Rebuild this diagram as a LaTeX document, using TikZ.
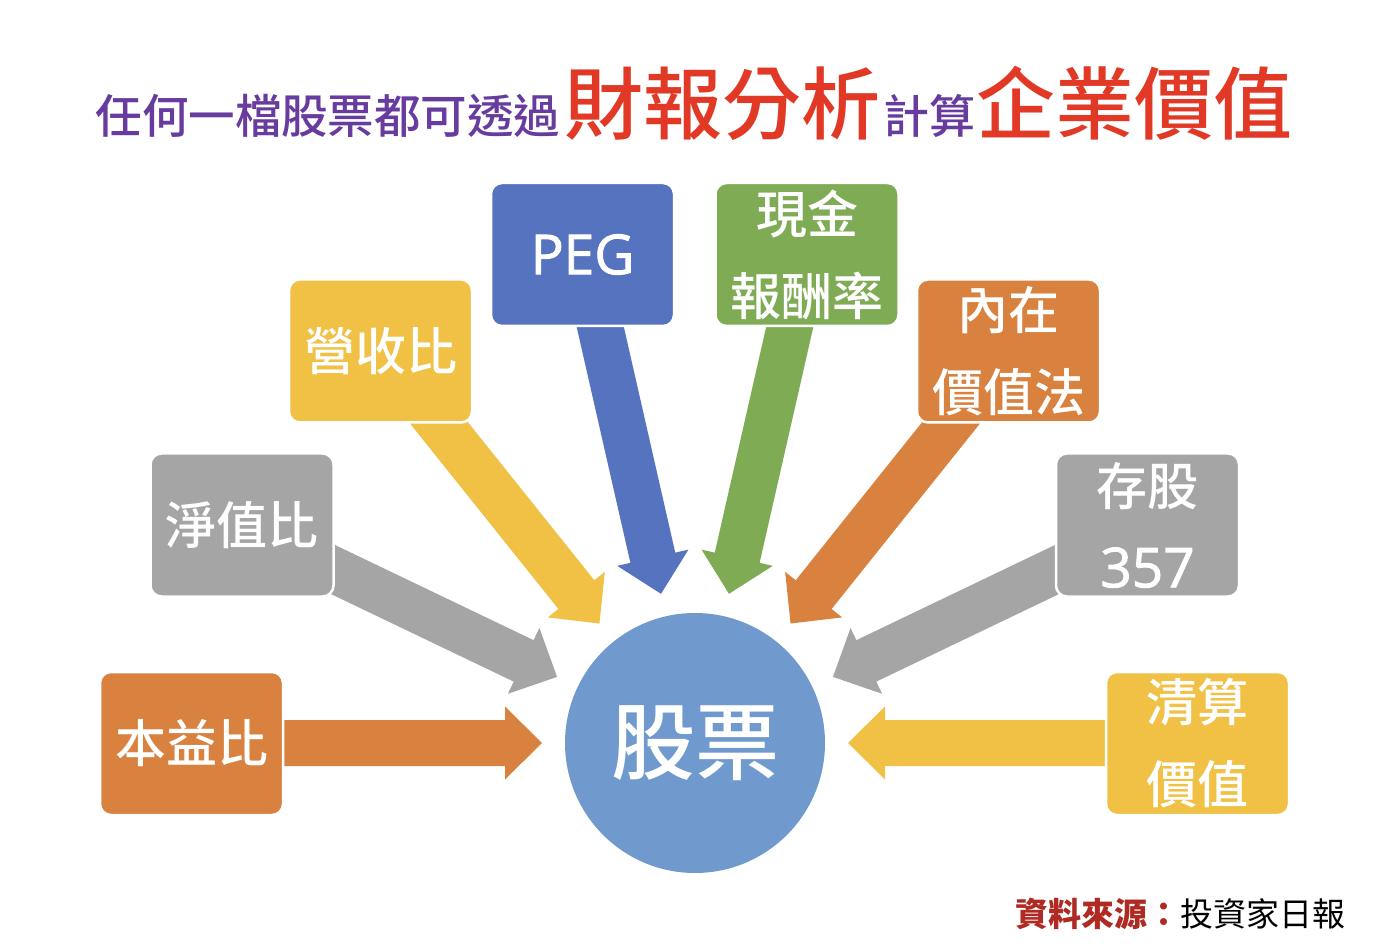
\documentclass[tikz,border=0pt]{standalone}
\usepackage{fontspec}
\usetikzlibrary{calc}
\newfontfamily\cjk{Noto Sans CJK TC}
\IfFontExistsTF{Noto Sans CJK TC Medium}
  {\newfontfamily\cjkm{Noto Sans CJK TC Medium}}
  {\newfontfamily\cjkm[FakeBold=1]{Noto Sans CJK TC}}
\newfontfamily\latin[FakeBold=1.6]{Open Sans}
\definecolor{cPurple}{RGB}{104,59,158}
\definecolor{cRed}{RGB}{226,57,38}
\definecolor{cSrc}{RGB}{176,42,36}
\definecolor{cBlue}{RGB}{85,115,190}
\definecolor{cGreen}{RGB}{127,171,85}
\definecolor{cYellow}{RGB}{240,193,69}
\definecolor{cOrange}{RGB}{217,130,64}
\definecolor{cGray}{RGB}{165,165,165}
\definecolor{cCircle}{RGB}{112,154,206}
\newcommand\blockarrow[3]{%
  \coordinate (hb) at ($(#2)!37pt!(#1)$);
  \fill[#3] ($(#1)!23pt!90:(#2)$) -- ($(hb)!23pt!90:(#2)$) -- ($(hb)!36.5pt!90:(#2)$)
    -- (#2) -- ($(hb)!36.5pt!-90:(#2)$) -- ($(hb)!23pt!-90:(#2)$) -- ($(#1)!23pt!-90:(#2)$) -- cycle;
}
\begin{document}
\begin{tikzpicture}[x=1pt,y=-1pt,
  box/.style={rounded corners=11pt, draw=white, line width=2.5pt,
    minimum width=183pt, minimum height=143pt, inner sep=0pt,
    text=white, align=center, font={\cjkm\fontsize{51}{82}\selectfont}},
  title/.style={anchor=base west, inner sep=0pt, outer sep=0pt}]
\useasboundingbox (0,0) rectangle (1385,949);
\fill[white] (0,0) rectangle (1385,949);

% title
\node[title, text=cPurple, font={\cjkm\fontsize{46.5}{50}\selectfont}] (ta) at (95.5,134) {任何一檔股票都可透過};
\node[title, text=cRed, font={\cjkm\fontsize{79}{84}\selectfont}] (tb) at (564,134) {財報分析};
\node[title, text=cPurple, font={\cjkm\fontsize{46}{50}\selectfont}] (tc) at (883,134) {計算};
\node[title, text=cRed, font={\cjkm\fontsize{79}{84}\selectfont}] (td) at (976,134) {企業價值};

% centre
\node[circle, fill=cCircle, minimum size=260pt, inner sep=0pt, text=white,
  font={\cjkm\fontsize{84}{90}\selectfont}] (stock) at (695,743) {股票};

% arrow start points (under the boxes)
\coordinate (s1) at (270,743);
\coordinate (s2) at (310,558.5);
\coordinate (s3) at (420.7,400);
\coordinate (s4) at (596.4,310);
\coordinate (s5) at (793.6,310);
\coordinate (s6) at (969.3,400);
\coordinate (s7) at (1080,558.5);
\coordinate (s8) at (1120,743);
\foreach \i in {1,...,8}{\coordinate (e\i) at ($(stock.center)!153pt!(s\i)$);}

\blockarrow{s1}{e1}{cOrange}
\blockarrow{s2}{e2}{cGray}
\blockarrow{s3}{e3}{cYellow}
\blockarrow{s4}{e4}{cBlue}
\blockarrow{s5}{e5}{cGreen}
\blockarrow{s6}{e6}{cOrange}
\blockarrow{s7}{e7}{cGray}
\blockarrow{s8}{e8}{cYellow}

% boxes
\node[box, fill=cOrange] (pe) at (191.5,743.5) {本益比};
\node[box, fill=cGray] (pb) at (242,525) {淨值比};
\node[box, fill=cYellow] (rev) at (380.5,351) {營收比};
\node[box, fill=cBlue] (peg) at (582.5,254.5) {{\latin\fontsize{55}{60}\selectfont PEG}};
\node[box, fill=cGreen] (cash) at (807,254.5) {現金\\報酬率};
\node[box, fill=cOrange] (intr) at (1008.5,351) {內在\\價值法};
\node[box, fill=cGray] (hold) at (1147.5,525) {存股\\{\latin\fontsize{55}{60}\selectfont 357}};
\node[box, fill=cYellow] (liq) at (1197.5,743.5) {清算\\價值};

% source
\node[title, font={\cjk\fontsize{33}{36}\selectfont}] (src) at (1015,926.5)
  {\textcolor{cSrc}{\bfseries 資料來源：}投資家日報};
\end{tikzpicture}
\end{document}
